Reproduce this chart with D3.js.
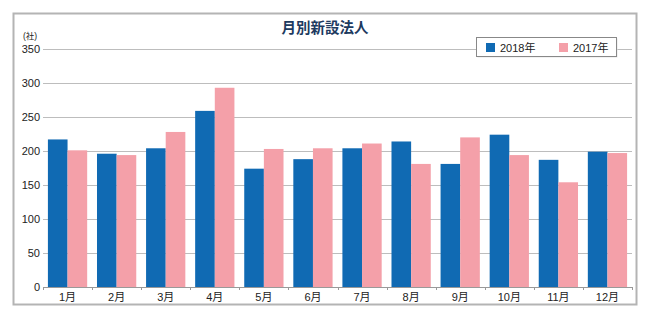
<!DOCTYPE html>
<html>
<head>
<meta charset="utf-8">
<script src="https://cdn.jsdelivr.net/npm/d3@7"></script>
<style>
  body { margin: 0; background: #fff; }
  text { font-family: "Liberation Sans", "Noto Sans CJK JP", sans-serif; }
</style>
</head>
<body>
<script>
const months = ["1月", "2月", "3月", "4月", "5月", "6月", "7月", "8月", "9月", "10月", "11月", "12月"]
const series = ["2018年", "2017年"]
const values2018 = [217, 196, 204, 259, 174, 188, 204, 214, 181, 224, 187, 199]
const values2017 = [201, 194, 228, 293, 203, 204, 211, 181, 220, 194, 154, 197]
const yTicks = [0, 50, 100, 150, 200, 250, 300, 350]

const colors = ["#106ab3", "#f4a0a9"]

const w = 648
const h = 311

const svg = d3.select("body")
              .append("svg")
              .attr("width", w)
              .attr("height", h)

// Outer frame
svg.append("rect")
   .attr("x", 13.5).attr("y", 13.5)
   .attr("width", 623).attr("height", 291)
   .attr("fill", "#fff")
   .attr("stroke", "#b4b4b4")
   .attr("stroke-width", 2)

const plotLeft = 43, plotRight = 632, plotTop = 49, plotBottom = 287

const x = d3.scaleBand()
            .domain(months)
            .range([plotLeft, plotRight])
            .paddingInner(0.2)
            .paddingOuter(0.1)

const xSub = d3.scaleBand()
               .domain(series)
               .range([0, x.bandwidth()])

const y = d3.scaleLinear()
            .domain([0, 350])
            .range([plotBottom, plotTop])

// Gridlines
svg.append("g")
   .selectAll("line")
   .data(yTicks.filter(t => t > 0))
   .enter()
   .append("line")
   .attr("x1", plotLeft).attr("x2", plotRight)
   .attr("y1", t => Math.round(y(t)) + 0.5)
   .attr("y2", t => Math.round(y(t)) + 0.5)
   .attr("stroke", "#bdbdbd")

// Y tick labels
svg.append("g")
   .selectAll("text")
   .data(yTicks)
   .enter()
   .append("text")
   .attr("x", 40)
   .attr("y", t => y(t) + 4)
   .attr("text-anchor", "end")
   .attr("font-size", 11)
   .attr("fill", "#222")
   .text(t => t)

svg.append("text")
   .attr("x", 30).attr("y", 39)
   .attr("text-anchor", "middle")
   .attr("font-size", 8.5)
   .attr("fill", "#222")
   .text("(社)")

// Bars
const data = months.map((m, i) => ({ month: m, vals: [values2018[i], values2017[i]] }))

const groups = svg.selectAll("g.month")
                  .data(data)
                  .enter()
                  .append("g")
                  .attr("class", "month")
                  .attr("transform", d => `translate(${x(d.month)}, 0)`)

groups.selectAll("rect")
      .data(d => d.vals.map((v, i) => ({ key: series[i], v: v, i: i })))
      .enter()
      .append("rect")
      .attr("x", d => xSub(d.key))
      .attr("width", xSub.bandwidth())
      .attr("y", d => y(d.v))
      .attr("height", d => y(0) - y(d.v))
      .attr("fill", d => colors[d.i])

// X axis baseline and ticks between months
svg.append("line")
   .attr("x1", plotLeft).attr("x2", plotRight)
   .attr("y1", plotBottom + 0.5).attr("y2", plotBottom + 0.5)
   .attr("stroke", "#999")

const step = x.step()
svg.append("g")
   .selectAll("line")
   .data(d3.range(13))
   .enter()
   .append("line")
   .attr("x1", i => Math.round(plotLeft + i * step) + 0.5)
   .attr("x2", i => Math.round(plotLeft + i * step) + 0.5)
   .attr("y1", plotBottom)
   .attr("y2", plotBottom + 3)
   .attr("stroke", "#999")

svg.append("g")
   .selectAll("text")
   .data(months)
   .enter()
   .append("text")
   .attr("x", m => x(m) + x.bandwidth() / 2)
   .attr("y", 301)
   .attr("text-anchor", "middle")
   .attr("font-size", 11)
   .attr("fill", "#222")
   .text(m => m)

// Title
svg.append("text")
   .attr("x", 325).attr("y", 33)
   .attr("text-anchor", "middle")
   .attr("font-size", 14.5)
   .attr("font-weight", "bold")
   .attr("fill", "#1d3a5f")
   .text("月別新設法人")

// Legend
const legend = svg.append("g")
                  .attr("transform", "translate(476, 37)")

legend.append("rect")
      .attr("x", 1.5).attr("y", 1.5)
      .attr("width", 140).attr("height", 19)
      .attr("fill", "#e6e6e6")
legend.append("rect")
      .attr("x", 0.5).attr("y", 0.5)
      .attr("width", 140).attr("height", 19)
      .attr("fill", "#fff")
      .attr("stroke", "#888")

const legendItems = legend.selectAll("g")
                          .data(series)
                          .enter()
                          .append("g")
                          .attr("transform", (s, i) => `translate(${10 + i * 73}, 0)`)

legendItems.append("rect")
           .attr("y", 6)
           .attr("width", 9).attr("height", 9)
           .attr("fill", (s, i) => colors[i])

legendItems.append("text")
           .attr("x", 14).attr("y", 15)
           .attr("font-size", 11)
           .attr("fill", "#222")
           .text(s => s)
</script>
</body>
</html>
